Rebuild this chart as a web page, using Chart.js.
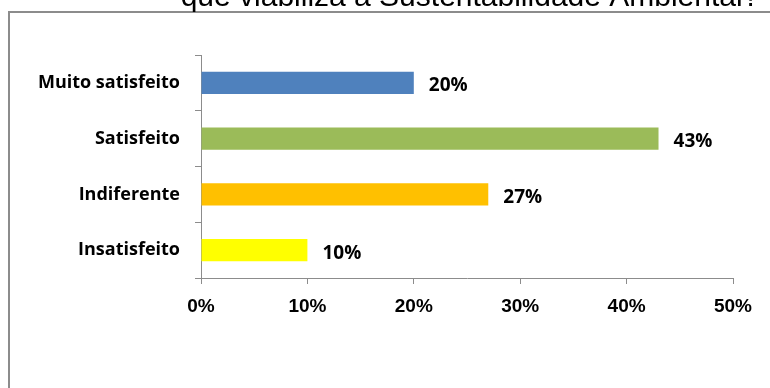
<!DOCTYPE html>
<html>
<head>
<meta charset="utf-8">
<script src="https://cdn.jsdelivr.net/npm/chart.js@4/dist/chart.umd.min.js"></script>
<style>
  html, body { margin: 0; padding: 0; background: #fff; overflow: hidden; }
  #wrap { position: relative; width: 770px; height: 388px; }
</style>
</head>
<body>
<div id="wrap"><canvas id="chart" width="770" height="388"></canvas></div>
<script>
const title = 'que viabiliza a Sustentabilidade Ambiental?'
const categories = ['Muito satisfeito', 'Satisfeito', 'Indiferente', 'Insatisfeito']
const values = [20, 43, 27, 10]
const barColors = ['#4F81BD', '#9BBB59', '#FFC000', '#FFFF00']
const xTicks = [0, 10, 20, 30, 40, 50]

const labelFont = '"Open Sans", Lato, sans-serif'
const axisFont = '"Liberation Sans", Arial, sans-serif'

// outer frame and the (partly cut) question above it
const framePlugin = {
  id: 'frame',
  beforeDraw(chart) {
    const ctx = chart.ctx
    ctx.save()
    ctx.strokeStyle = '#8c8c8c'
    ctx.lineWidth = 2
    ctx.strokeRect(9, 12, 800, 420)
    ctx.fillStyle = '#000'
    ctx.font = '30px ' + axisFont
    ctx.textAlign = 'center'
    ctx.textBaseline = 'alphabetic'
    ctx.fillText(title, 470, 6)
    ctx.restore()
  }
}

// percentage next to the end of each bar
const valueLabels = {
  id: 'valueLabels',
  afterDatasetsDraw(chart) {
    const ctx = chart.ctx
    const meta = chart.getDatasetMeta(0)
    ctx.save()
    ctx.fillStyle = '#000'
    ctx.font = 'bold 19px ' + labelFont
    ctx.textAlign = 'left'
    ctx.textBaseline = 'middle'
    meta.data.forEach((bar, i) => {
      ctx.fillText(values[i] + '%', bar.x + 15, bar.y + 3)
    })
    ctx.restore()
  }
}

new Chart(document.getElementById('chart'), {
  type: 'bar',
  data: {
    labels: categories,
    datasets: [{
      data: values,
      backgroundColor: barColors,
      borderWidth: 0,
      categoryPercentage: 1,
      barPercentage: 0.395
    }]
  },
  options: {
    indexAxis: 'y',
    responsive: false,
    animation: false,
    layout: { padding: { top: 55, right: 37, left: 0, bottom: 0 } },
    plugins: {
      legend: { display: false },
      tooltip: { enabled: false }
    },
    scales: {
      y: {
        afterFit(scale) { scale.width = 201 },
        grid: { offset: true, drawOnChartArea: false, drawTicks: true, tickLength: 6, color: '#8c8c8c' },
        border: { display: true, color: '#8c8c8c', width: 1 },
        ticks: { color: '#000', padding: 15, font: { family: labelFont, size: 18, weight: 'bold' } }
      },
      x: {
        min: 0,
        max: 50,
        afterFit(scale) { scale.height = 110 },
        afterBuildTicks(scale) { scale.ticks = xTicks.map(v => ({ value: v })) },
        grid: { drawOnChartArea: false, drawTicks: true, tickLength: 6, color: '#8c8c8c' },
        border: { display: true, color: '#8c8c8c', width: 1 },
        ticks: {
          color: '#000',
          padding: 11,
          font: { family: axisFont, size: 19, weight: 'bold' },
          callback: v => v + '%'
        }
      }
    }
  },
  plugins: [framePlugin, valueLabels]
})
</script>
</body>
</html>
